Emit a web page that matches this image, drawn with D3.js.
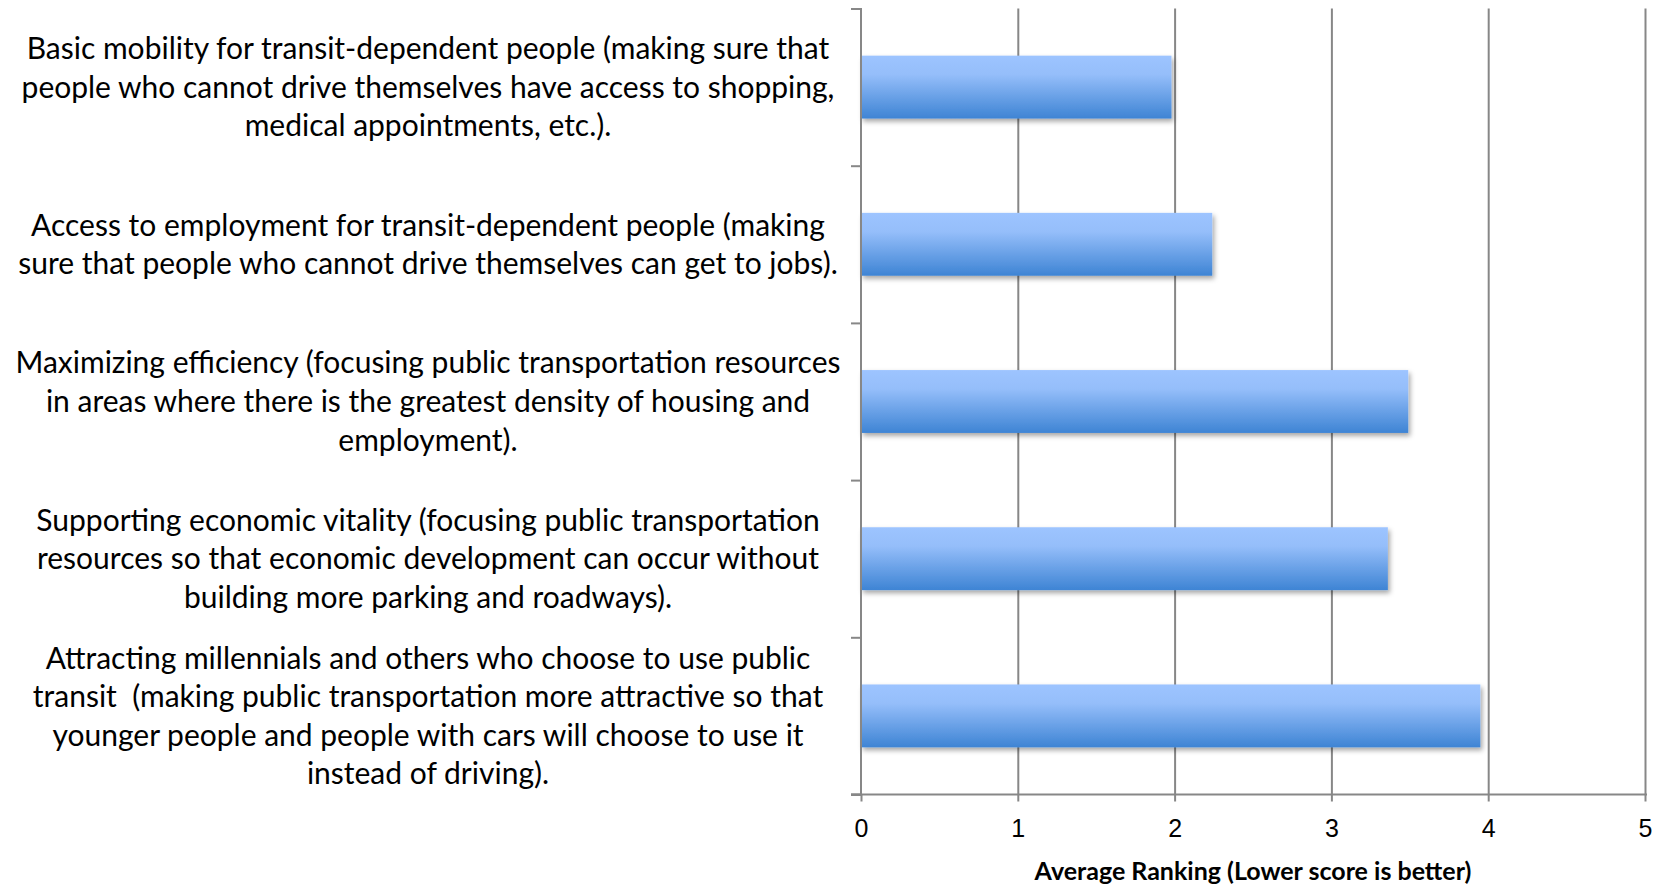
<!DOCTYPE html>
<html>
<head>
<meta charset="utf-8">
<script src="https://cdn.jsdelivr.net/npm/d3@7"></script>
<style>
  html, body { margin: 0; padding: 0; background: #fff; }
  svg { display: block; font-family: Lato, "Open Sans", sans-serif; }
</style>
</head>
<body>
<div id="chart"></div>
<script>
// categories, top to bottom, already broken into lines as in the source chart
const categories = [
  ["Basic mobility for transit-dependent people (making sure that",
   "people who cannot drive themselves have access to shopping,",
   "medical appointments, etc.)."],
  ["Access to employment for transit-dependent people (making",
   "sure that people who cannot drive themselves can get to jobs)."],
  ["Maximizing efficiency (focusing public transportation resources",
   "in areas where there is the greatest density of housing and",
   "employment)."],
  ["Supporting economic vitality (focusing public transportation",
   "resources so that economic development can occur without",
   "building more parking and roadways)."],
  ["Attracting millennials and others who choose to use public",
   "transit  (making public transportation more attractive so that",
   "younger people and people with cars will choose to use it",
   "instead of driving)."]
];
const avgRanking = [1.98, 2.24, 3.49, 3.36, 3.95];
const xTicks = [0, 1, 2, 3, 4, 5];
const xTitle = "Average Ranking (Lower score is better)";

const W = 1661, H = 885;
const margin = { top: 8.5, right: 16, bottom: 90.5, left: 861 };
const width = W - margin.left - margin.right;
const height = H - margin.top - margin.bottom;

const svg = d3.select('#chart').append('svg')
  .attr('width', W)
  .attr('height', H);

const defs = svg.append('defs');
const grad = defs.append('linearGradient')
  .attr('id', 'barGrad')
  .attr('x1', '0%').attr('x2', '0%')
  .attr('y1', '0%').attr('y2', '100%');
grad.append('stop').attr('offset', '0%').attr('stop-color', '#9dc4ff');
grad.append('stop').attr('offset', '30%').attr('stop-color', '#95befa');
grad.append('stop').attr('offset', '100%').attr('stop-color', '#3e84d4');

const shadow = defs.append('filter')
  .attr('id', 'barShadow')
  .attr('x', '-5%').attr('y', '-20%')
  .attr('width', '115%').attr('height', '150%');
shadow.append('feDropShadow')
  .attr('dx', 2).attr('dy', 3)
  .attr('stdDeviation', 2.5)
  .attr('flood-color', '#000')
  .attr('flood-opacity', 0.35);

const g = svg.append('g')
  .attr('transform', `translate(${margin.left},${margin.top})`);

const x = d3.scaleLinear().domain([0, 5]).range([0, width]);
const y = d3.scaleBand()
  .domain(d3.range(categories.length))
  .range([0, height])
  .paddingInner(0.6)
  .paddingOuter(0.3);
// boundaries between categories, for the tick marks on the vertical axis
const yEdge = d3.scaleLinear().domain([0, categories.length]).range([0, height]);

// vertical gridlines
g.append('g')
  .attr('class', 'grid')
  .call(d3.axisBottom(x).tickValues(xTicks.slice(1)).tickSize(height).tickFormat(''))
  .call(s => s.select('.domain').remove())
  .selectAll('line')
  .attr('stroke', '#878787')
  .attr('stroke-width', 2);

// bars
g.selectAll('rect.bar')
  .data(avgRanking)
  .enter().append('rect')
  .attr('class', 'bar')
  .attr('x', x(0))
  .attr('y', (d, i) => y(i))
  .attr('width', d => x(d) - x(0))
  .attr('height', y.bandwidth())
  .attr('fill', 'url(#barGrad)')
  .attr('filter', 'url(#barShadow)');

// left axis with ticks at category edges
g.append('g')
  .call(d3.axisLeft(yEdge).tickValues(d3.range(categories.length + 1)).tickSize(10).tickFormat(''))
  .call(s => s.selectAll('line, path').attr('stroke', '#878787').attr('stroke-width', 2))
  .call(s => s.select('.domain').attr('d', `M-10,0.5H0V${height}H-10`));

// bottom axis
const xAxis = g.append('g')
  .attr('transform', `translate(0,${height})`)
  .call(d3.axisBottom(x).tickValues(xTicks).tickSize(7).tickPadding(18).tickFormat(d3.format('d')));
xAxis.selectAll('line, path').attr('stroke', '#878787').attr('stroke-width', 2);
xAxis.select('.domain').attr('d', `M-10,0H${width + 2}`);
xAxis.selectAll('text')
  .attr('fill', '#000')
  .style('font-size', '25px');

// axis title
g.append('text')
  .attr('x', width / 2)
  .attr('y', height + 85)
  .attr('text-anchor', 'middle')
  .style('font-size', '25px')
  .style('font-weight', 'bold')
  .text(xTitle);

// category labels, centred in the left area
const labelX = 428 - margin.left;
const lineH = 38.6;
const labels = g.selectAll('text.catLabel')
  .data(categories)
  .enter().append('text')
  .attr('class', 'catLabel')
  .attr('text-anchor', 'middle')
  .style('font-size', '30px')
  .attr('fill', '#000');

labels.each(function (lines, i) {
  const cy = y(i) + y.bandwidth() / 2;
  const y0 = cy - (lines.length - 1) * lineH / 2;
  d3.select(this).selectAll('tspan')
    .data(lines)
    .enter().append('tspan')
    .attr('x', labelX)
    .attr('y', (d, j) => y0 + j * lineH)
    .attr('dy', '0.35em')
    .style('white-space', 'pre')
    .text(d => d);
});
</script>
</body>
</html>
